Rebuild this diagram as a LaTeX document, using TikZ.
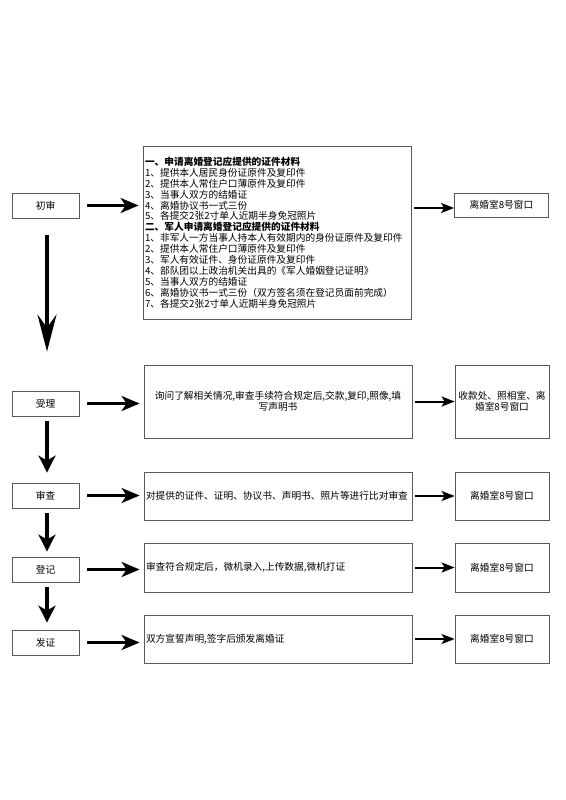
\documentclass[tikz,border=0pt]{standalone}
\usepackage{fontspec}
\setmainfont{Noto Sans CJK SC}
\usetikzlibrary{arrows.meta}
\begin{document}
\begin{tikzpicture}[x=1pt,y=-1pt,
  box/.style={draw=black!65, line width=0.8pt, inner sep=2pt, font=\fontsize{9.7}{10.9}\selectfont},
  lbox/.style={box, minimum width=67pt, minimum height=25pt},
  cbox/.style={box, minimum width=268pt, text width=264pt, align=left},
  rbox/.style={box, minimum width=94pt, text width=90pt, align=center},
  bigarr/.style={line width=3pt, -{Stealth[length=18pt,width=15pt,inset=5pt]}},
  hugearr/.style={line width=4pt, -{Stealth[length=37pt,width=19pt,inset=13pt]}},
  downarr/.style={line width=3.5pt, -{Stealth[length=17pt,width=17pt,inset=5pt]}},
  smallarr/.style={line width=2pt, -{Stealth[length=13pt,width=10pt,inset=3pt]}}
]
\useasboundingbox (0,0) rectangle (565,800);
\fill[white] (0,0) rectangle (565,800);

% left column
\node[lbox] (cs) at (45.5,205.5) {初审};
\node[lbox] (sl) at (45.5,403.5) {受理};
\node[lbox] (sc) at (45.5,495.5) {审查};
\node[lbox] (dj) at (45.5,569.5) {登记};
\node[lbox] (fz) at (45.5,642.5) {发证};

% content boxes
\node[cbox, minimum height=173pt] (c1) at (277,232.5) {%
\textbf{一、申请离婚登记应提供的证件材料}\\
1、提供本人居民身份证原件及复印件\\
2、提供本人常住户口薄原件及复印件\\
3、当事人双方的结婚证\\
4、离婚协议书一式三份\\
5、各提交2张2寸单人近期半身免冠照片\\
\textbf{二、军人申请离婚登记应提供的证件材料}\\
1、非军人一方当事人持本人有效期内的身份证原件及复印件\\
2、提供本人常住户口薄原件及复印件\\
3、军人有效证件、身份证原件及复印件\\
4、部队团以上政治机关出具的《军人婚姻登记证明》\\
5、当事人双方的结婚证\\
6、离婚协议书一式三份（双方签名须在登记员面前完成）\\
7、各提交2张2寸单人近期半身免冠照片};
\node[cbox, align=center, minimum height=73pt] (c2) at (278,401.5) {询问了解相关情况,审查手续符合规定后,交款,复印,照像,填\\写声明书};
\node[cbox, minimum height=48pt] (c3) at (278,496) {对提供的证件、证明、协议书、声明书、照片等进行比对审查};
\node[cbox, minimum height=49pt] (c4) at (278,567.5) {审查符合规定后，微机录入,上传数据,微机打证};
\node[cbox, minimum height=48pt] (c5) at (278,639) {双方宣誓声明,签字后颁发离婚证};

% right boxes
\node[rbox, minimum height=24pt] (r1) at (501.5,205) {离婚室8号窗口};
\node[rbox, minimum height=73pt] (r2) at (502,401.5) {收款处、照相室、离\\婚室8号窗口};
\node[rbox, minimum height=48pt] (r3) at (502,496) {离婚室8号窗口};
\node[rbox, minimum height=49pt] (r4) at (502,567.5) {离婚室8号窗口};
\node[rbox, minimum height=48pt] (r5) at (502,639) {离婚室8号窗口};

% left -> content arrows
\draw[bigarr, shorten <=8pt, shorten >=4pt] (cs.east) -- (cs.east -| c1.west);
\draw[bigarr, shorten <=8pt, shorten >=4pt] (sl.east) -- (sl.east -| c2.west);
\draw[bigarr, shorten <=8pt, shorten >=4pt] (sc.east) -- (sc.east -| c3.west);
\draw[bigarr, shorten <=8pt, shorten >=4pt] (dj.east) -- (dj.east -| c4.west);
\draw[bigarr, shorten <=8pt, shorten >=4pt] (fz.east) -- (fz.east -| c5.west);

% content -> right arrows
\draw[smallarr, shorten <=3pt] ([yshift=-3pt]c1.east |- r1.west) -- ([yshift=-3pt]r1.west);
\draw[smallarr, shorten <=3pt] (c2.east |- r2.west) -- (r2.west);
\draw[smallarr, shorten <=3pt] (c3.east |- r3.west) -- (r3.west);
\draw[smallarr, shorten <=3pt] (c4.east |- r4.west) -- (r4.west);
\draw[smallarr, shorten <=3pt] (c5.east |- r5.west) -- (r5.west);

% down arrows
\draw[hugearr, shorten <=17pt, shorten >=39pt] ([xshift=1.5pt]cs.south) -- ([xshift=1.5pt]sl.north);
\draw[downarr, shorten <=5pt, shorten >=10pt] ([xshift=1.5pt]sl.south) -- ([xshift=1.5pt]sc.north);
\draw[downarr, shorten <=5pt, shorten >=5pt] ([xshift=1.5pt]sc.south) -- ([xshift=1.5pt]dj.north);
\draw[downarr, shorten <=5pt, shorten >=7pt] ([xshift=1.5pt]dj.south) -- ([xshift=1.5pt]fz.north);
\end{tikzpicture}
\end{document}
